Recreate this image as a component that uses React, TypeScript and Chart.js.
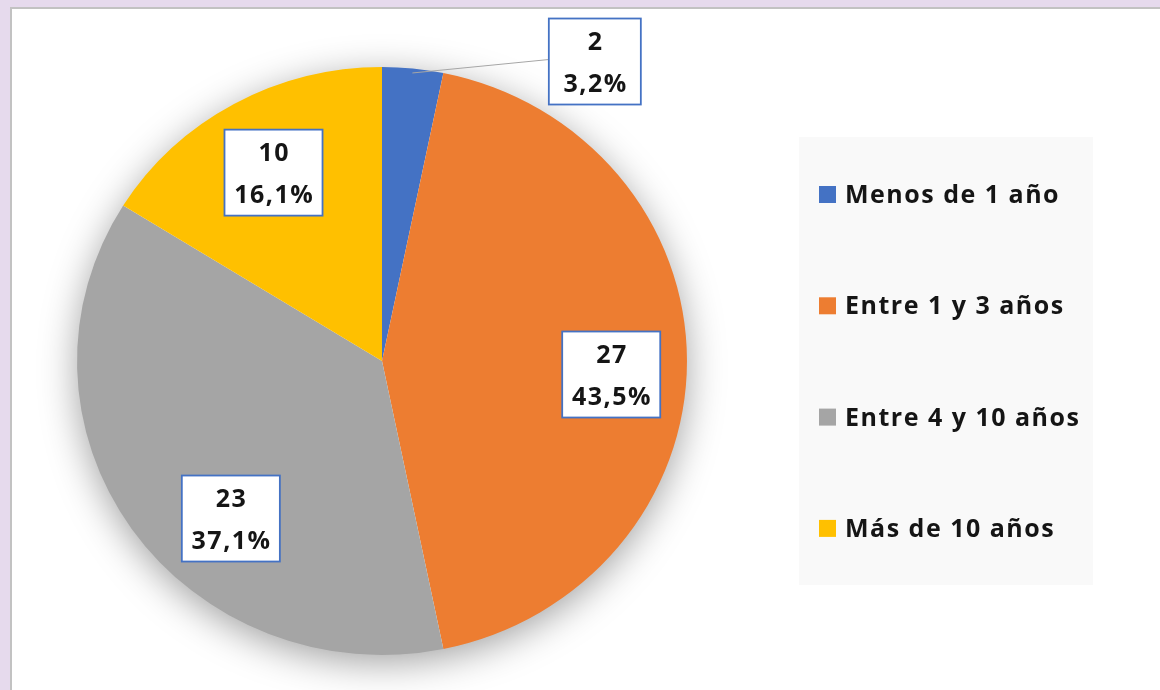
import React, { useEffect, useRef } from "react";
import { Chart, registerables } from "chart.js";

Chart.register(...registerables);

const categories = ["Menos de 1 año", "Entre 1 y 3 años", "Entre 4 y 10 años", "Más de 10 años"];
const values = [2, 27, 23, 10];
const colors = ["#4472C4", "#ED7D31", "#A5A5A5", "#FFC000"];

// label placement: radius fraction and angle offset (deg) from slice middle
const labelRadius = [1.235, 0.753, 0.73, 0.733];
const labelAngleOffset = [28.6, 3.5, -12.4, 0];

const FONT = "'Open Sans', 'DejaVu Sans', sans-serif";
const PIE_SX = 1.02;
const PIE_SY = 0.983;

const fmtPct = (v: number, total: number) => ((v / total) * 100).toFixed(1).replace(".", ",") + "%";

const pieGeom = (chart: any) => {
  const arc = chart.getDatasetMeta(0).data[0];
  return arc.getProps(["x", "y", "outerRadius"], true);
};

const stretchPlugin = {
  id: "pieStretch",
  beforeDatasetsDraw(chart: any) {
    const { x, y, outerRadius } = pieGeom(chart);
    const ctx = chart.ctx;
    ctx.save();
    ctx.translate(x, y);
    ctx.scale(PIE_SX, PIE_SY);
    ctx.translate(-x, -y);
    // soft shadow behind the pie
    ctx.save();
    ctx.shadowColor = "rgba(0,0,0,0.38)";
    ctx.shadowBlur = 38;
    ctx.shadowOffsetX = 0;
    ctx.shadowOffsetY = 8;
    ctx.fillStyle = "#ffffff";
    ctx.beginPath();
    ctx.arc(x, y, outerRadius - 1, 0, Math.PI * 2);
    ctx.fill();
    ctx.restore();
  },
  afterDatasetsDraw(chart: any) {
    chart.ctx.restore();
  },
};

const labelPlugin = {
  id: "sliceLabels",
  afterDatasetsDraw(chart: any) {
    const ctx = chart.ctx;
    const meta = chart.getDatasetMeta(0);
    const data = chart.data.datasets[0].data as number[];
    const total = data.reduce((a, b) => a + b, 0);
    meta.data.forEach((arc: any, i: number) => {
      const { x, y, startAngle, endAngle, outerRadius } = arc.getProps(
        ["x", "y", "startAngle", "endAngle", "outerRadius"],
        true
      );
      const mid = (startAngle + endAngle) / 2;
      const ang = mid + (labelAngleOffset[i] * Math.PI) / 180;
      const r = outerRadius * labelRadius[i];
      const cx = x + Math.cos(ang) * r * PIE_SX;
      const cy = y + Math.sin(ang) * r * PIE_SY;
      const l1 = String(data[i]);
      const l2 = fmtPct(data[i], total);
      ctx.save();
      ctx.font = `bold 25px ${FONT}`;
      (ctx as any).letterSpacing = "1.5px";
      const w = Math.max(Math.max(ctx.measureText(l1).width, ctx.measureText(l2).width) + 18, 92);
      const h = 86;
      const bx = cx - w / 2;
      const by = cy - h / 2;
      if (labelRadius[i] > 1) {
        ctx.strokeStyle = "#a6a6a6";
        ctx.lineWidth = 1;
        ctx.beginPath();
        ctx.moveTo(
          x + Math.cos(mid) * outerRadius * 0.985 * PIE_SX,
          y + Math.sin(mid) * outerRadius * 0.985 * PIE_SY
        );
        ctx.lineTo(bx, by + 41);
        ctx.stroke();
      }
      ctx.fillStyle = "#ffffff";
      ctx.fillRect(bx, by, w, h);
      ctx.strokeStyle = "#4472C4";
      ctx.lineWidth = 1.8;
      ctx.strokeRect(bx, by, w, h);
      ctx.fillStyle = "#151515";
      ctx.textAlign = "center";
      ctx.textBaseline = "alphabetic";
      ctx.fillText(l1, cx + 0.75, cy - 12);
      ctx.fillText(l2, cx + 0.75, cy + 30);
      ctx.restore();
    });
  },
};

const legendPlugin = {
  id: "customLegend",
  afterDraw(chart: any) {
    const ctx = chart.ctx;
    ctx.save();
    ctx.fillStyle = "#f9f9f9";
    ctx.fillRect(799, 137, 294, 448);
    const labels = chart.data.labels as string[];
    const cols = chart.data.datasets[0].backgroundColor as string[];
    ctx.font = `bold 25px ${FONT}`;
    (ctx as any).letterSpacing = "1.5px";
    ctx.textBaseline = "alphabetic";
    ctx.textAlign = "left";
    labels.forEach((lab, i) => {
      const base = 203 + i * 111.3;
      ctx.fillStyle = cols[i];
      ctx.fillRect(819, base - 17, 17, 17);
      ctx.fillStyle = "#151515";
      ctx.fillText(lab, 845, base);
    });
    ctx.restore();
  },
};

export default function App() {
  const ref = useRef<HTMLCanvasElement | null>(null);
  useEffect(() => {
    document.body.style.margin = "0";
    if (!ref.current) return;
    const chart = new Chart(ref.current, {
      type: "pie",
      data: {
        labels: categories,
        datasets: [
          {
            data: values,
            backgroundColor: colors,
            borderWidth: 0,
          },
        ],
      },
      options: {
        animation: false,
        responsive: false,
        maintainAspectRatio: false,
        layout: { padding: { top: 62, bottom: 30, left: 83, right: 479 } },
        plugins: {
          legend: { display: false },
          tooltip: { enabled: false },
        },
      },
      plugins: [stretchPlugin, labelPlugin, legendPlugin],
    });
    return () => chart.destroy();
  }, []);
  return (
    <div
      style={{
        position: "fixed",
        left: 0,
        top: 0,
        width: 1160,
        height: 690,
        background: "#e6daed",
        overflow: "hidden",
      }}
    >
      <div
        style={{
          position: "absolute",
          left: 10,
          top: 7,
          width: 1150,
          height: 683,
          background: "#ffffff",
          borderLeft: "2px solid #c2c2c2",
          borderTop: "2px solid #c2c2c2",
          boxSizing: "border-box",
        }}
      />
      <canvas
        ref={ref}
        width={1160}
        height={690}
        style={{ position: "absolute", left: 0, top: 0, width: 1160, height: 690 }}
      />
    </div>
  );
}
